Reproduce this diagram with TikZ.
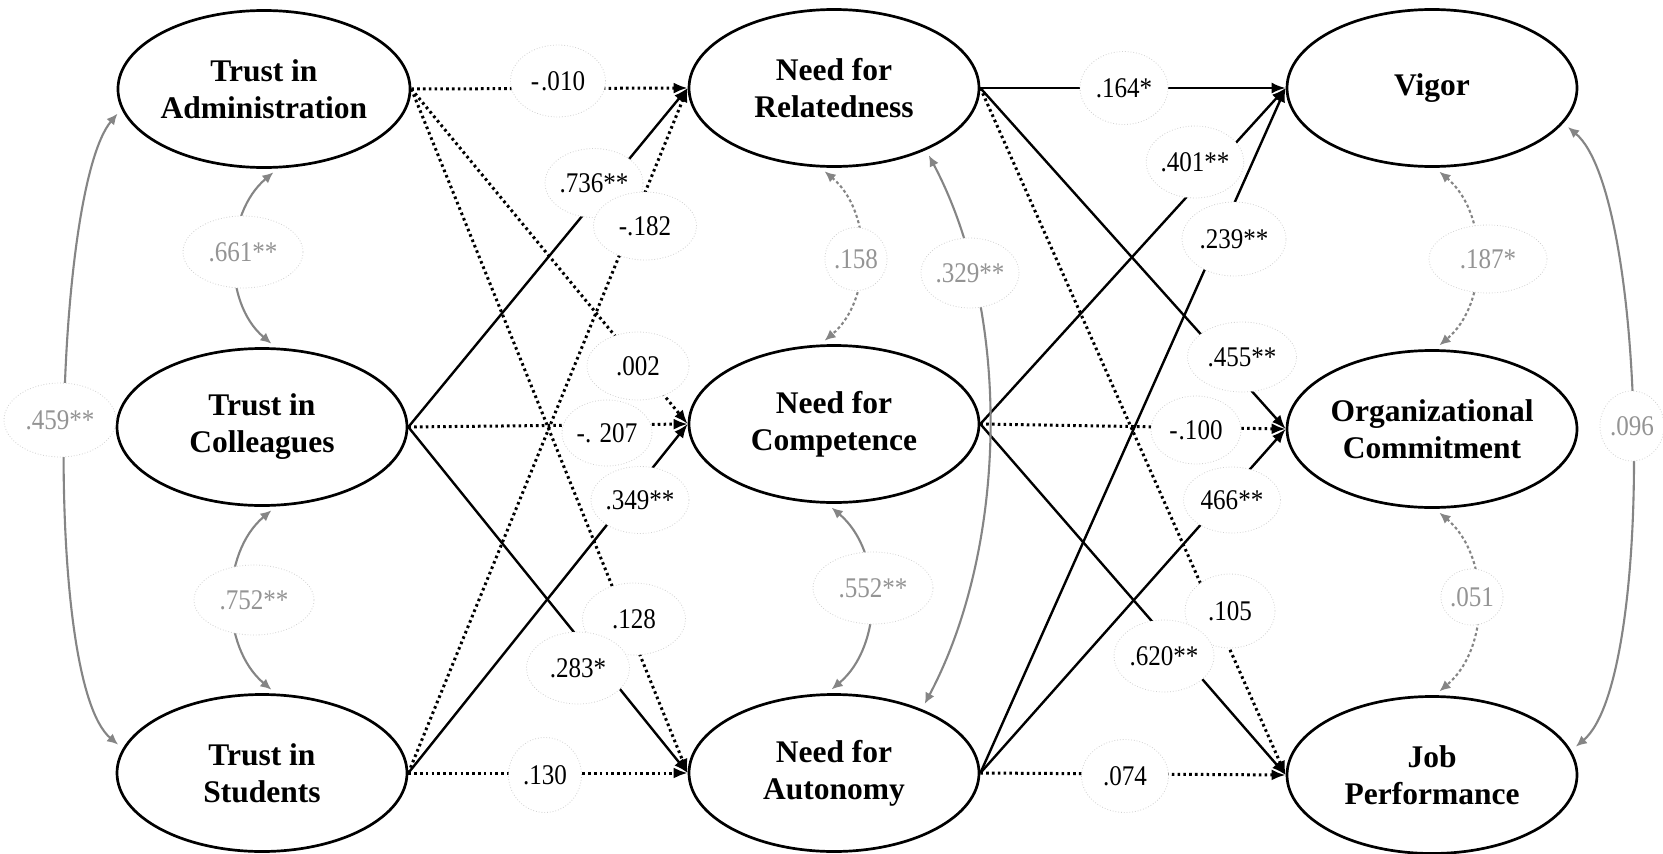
\documentclass[tikz,border=0pt]{standalone}
\usepackage{fontspec}
\setmainfont{Liberation Serif}
\newfontfamily\labfont[FakeStretch=0.88]{Liberation Serif}
\usetikzlibrary{shapes.geometric,arrows.meta}
\begin{document}
\begin{tikzpicture}[x=1pt,y=-1pt,
  latent/.style={ellipse, draw, line width=2.7pt, minimum width=290pt, minimum height=157pt,
    inner sep=0pt, align=center, font=\fontsize{31.5}{37}\selectfont\bfseries},
  lab/.style={ellipse, draw=black!18, dotted, line width=0.8pt, fill=white, inner sep=0pt,
    font=\labfont\fontsize{28.5}{30}\selectfont, text=black},
  glab/.style={lab, text=black!42},
  solidarrow/.style={line width=2.4pt, -{Latex[length=14pt,width=11pt]}},
  dotarrow/.style={line width=3pt, dash pattern=on 2.6pt off 3.2pt, -{Latex[length=14pt,width=11pt]}},
  cor/.style={draw=black!48, line width=2.1pt, {Latex[length=11pt,width=10pt]}-{Latex[length=11pt,width=10pt]},
    shorten <=6pt, shorten >=6pt},
  cordot/.style={cor, dash pattern=on 3pt off 2.6pt},
]
\fill[white] (0,0) rectangle (1663,854);
\useasboundingbox (0,0) rectangle (1663,854);

% latent variables
\node[latent] (TA) at (264,89) {Trust in\\Administration};
\node[latent] (TC) at (262,427) {Trust in\\Colleagues};
\node[latent] (TS) at (262,773) {Trust in\\Students};
\node[latent] (NR) at (834,88) {Need for\\Relatedness};
\node[latent] (NC) at (834,424) {Need for\\Competence};
\node[latent] (NA) at (834,773) {Need for\\Autonomy};
\node[latent] (VI) at (1432,88) {Vigor};
\node[latent] (OC) at (1432,429) {Organizational\\Commitment};
\node[latent] (JP) at (1432,775) {Job\\Performance};

% paths: trust -> needs
\draw[dotarrow] (TA.east) -- (NR.west);
\draw[dotarrow] (TA.east) -- (NC.west);
\draw[dotarrow] (TA.east) -- (NA.west);
\draw[solidarrow] (TC.east) -- (NR.west);
\draw[dotarrow] (TC.east) -- (NC.west);
\draw[solidarrow] (TC.east) -- (NA.west);
\draw[dotarrow] (TS.east) -- (NR.west);
\draw[solidarrow] (TS.east) -- (NC.west);
\draw[dotarrow] (TS.east) -- (NA.west);
% paths: needs -> outcomes
\draw[solidarrow] (NR.east) -- (VI.west);
\draw[solidarrow] (NR.east) -- (OC.west);
\draw[dotarrow] (NR.east) -- (JP.west);
\draw[solidarrow] (NC.east) -- (VI.west);
\draw[dotarrow] (NC.east) -- (OC.west);
\draw[solidarrow] (NC.east) -- (JP.west);
\draw[solidarrow] (NA.east) -- (VI.west);
\draw[solidarrow] (NA.east) -- (OC.west);
\draw[dotarrow] (NA.east) -- (JP.west);

% correlations
\draw[cor] (TA.-80) to[out=-140,in=140] (TC.80);
\draw[cor] (TC.-80) to[out=-140,in=140] (TS.80);
\draw[cor] (TA.-172) to[out=-130,in=140,looseness=0.42] (TS.170);
\draw[cordot] (NR.-100) to[out=-40,in=40] (NC.100);
\draw[cor] (NC.-95) to[out=-40,in=40] (NA.95);
\draw[cor] (NR.-34) to[out=-62,in=62,looseness=0.84] (NA.36);
\draw[cordot] (VI.-88) to[out=-40,in=40] (OC.88);
\draw[cordot] (OC.-88) to[out=-40,in=40] (JP.88);
\draw[cor] (VI.-15) to[out=-40,in=40,looseness=0.45] (JP.10);

% path coefficients
\node[lab, minimum width=95pt, minimum height=72pt] (l1) at (558,81) {-\kern2pt.010};
\node[lab, minimum width=98pt, minimum height=69pt] (l2) at (594,183) {.736**};
\node[lab, minimum width=103pt, minimum height=68pt] (l3) at (645,226) {-.182};
\node[lab, minimum width=102pt, minimum height=68pt] (l4) at (638,366) {.002};
\node[lab, minimum width=90pt, minimum height=66pt] (l5) at (607,433) {-. 207};
\node[lab, minimum width=98pt, minimum height=67pt] (l6) at (640,500) {.349**};
\node[lab, minimum width=103pt, minimum height=72pt] (l7) at (634,619) {.128};
\node[lab, minimum width=103pt, minimum height=72pt] (l8) at (578,668) {.283*};
\node[lab, minimum width=73pt, minimum height=75pt] (l9) at (545,775) {.130};
\node[lab, minimum width=88pt, minimum height=73pt] (l10) at (1124,88) {.164*};
\node[lab, minimum width=90pt, minimum height=72pt] (l11) at (1195,162) {.401**};
\node[lab, minimum width=104pt, minimum height=74pt] (l12) at (1234,239) {.239**};
\node[lab, minimum width=109pt, minimum height=70pt] (l13) at (1242,357) {.455**};
\node[lab, minimum width=90pt, minimum height=68pt] (l14) at (1196,430) {-\kern1pt.100};
\node[lab, minimum width=97pt, minimum height=66pt] (l15) at (1232,500) {466**};
\node[lab, minimum width=90pt, minimum height=74pt] (l16) at (1230,611) {.105};
\node[lab, minimum width=100pt, minimum height=72pt] (l17) at (1164,656) {.620**};
\node[lab, minimum width=87pt, minimum height=73pt] (l18) at (1125,776) {.074};

% correlation coefficients
\node[glab, minimum width=120pt, minimum height=72pt] (c1) at (243,252) {.661**};
\node[glab, minimum width=120pt, minimum height=70pt] (c2) at (254,600) {.752**};
\node[glab, minimum width=112pt, minimum height=74pt] (c3) at (60,420) {.459**};
\node[glab, minimum width=62pt, minimum height=63pt] (c4) at (856,259) {.158};
\node[glab, minimum width=98pt, minimum height=70pt] (c5) at (970,273) {.329**};
\node[glab, minimum width=120pt, minimum height=72pt] (c6) at (873,588) {.552**};
\node[glab, minimum width=118pt, minimum height=68pt] (c7) at (1488,259) {.187*};
\node[glab, minimum width=57pt, minimum height=56pt] (c8) at (1472,597) {.051};
\node[glab, minimum width=64pt, minimum height=70pt] (c9) at (1632,426) {.096};
\end{tikzpicture}
\end{document}
